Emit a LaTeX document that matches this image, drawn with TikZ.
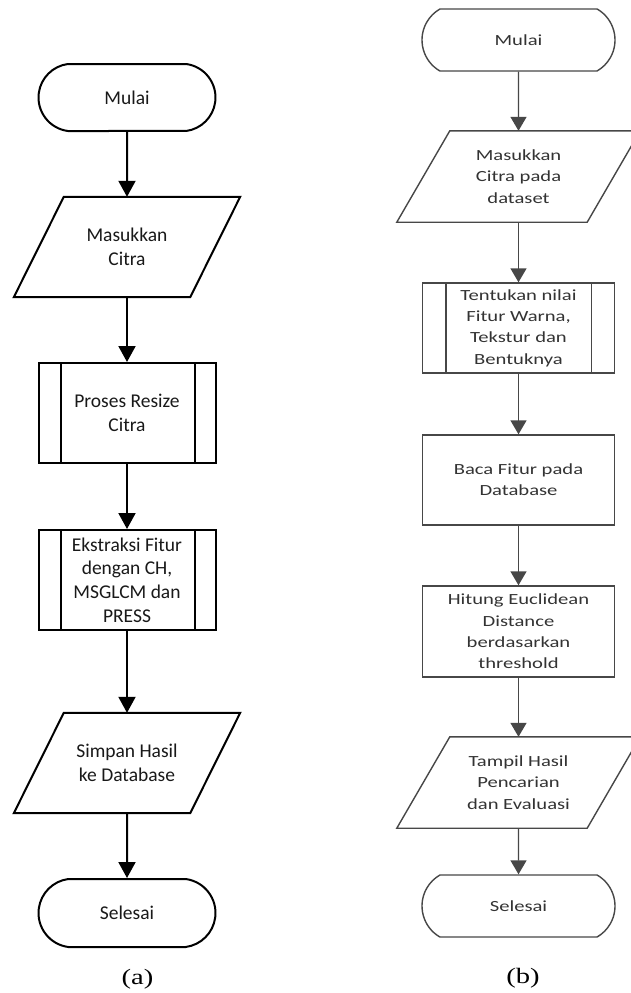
\documentclass[tikz,border=0pt]{standalone}
\usepackage{fontspec}
\setmainfont{Carlito}
\newfontfamily\lfont{Carlito}
\newfontfamily\rfont{Carlito}[FakeStretch=1.33]
\newfontfamily\capfont{Liberation Serif}[FakeStretch=1.3]
\usetikzlibrary{arrows.meta,shapes.misc}
\begin{document}
\begin{tikzpicture}[x=1pt,y=-1pt,
  lbase/.style={inner sep=0pt, align=center, font=\lfont\fontsize{19.5}{23.8}\selectfont, text=black!90},
  lline/.style={line width=2pt, draw=black},
  lterm/.style={lbase, lline, rounded rectangle, rounded rectangle arc length=165, minimum width=177pt, minimum height=67pt},
  lio/.style={lbase, minimum width=226pt, minimum height=100pt},
  lproc/.style={lbase, lline, minimum width=177pt, minimum height=100pt},
  larr/.style={line width=2pt, draw=black, -{Triangle[width=17pt,length=16pt]}},
  rbase/.style={inner sep=0pt, align=center, font=\rfont\fontsize{15.5}{21.3}\selectfont, text=black!80},
  rline/.style={line width=1.4pt, draw=black!72},
  rterm/.style={rbase, rline, rounded rectangle, rounded rectangle arc length=120, minimum width=193pt, minimum height=62pt},
  rio/.style={rbase, minimum width=243pt, minimum height=91pt},
  rproc/.style={rbase, rline, minimum width=192pt, minimum height=90pt},
  rarr/.style={line width=1.4pt, draw=black!72, -{Triangle[width=16pt,length=14pt]}},
  captxt/.style={font=\capfont\fontsize{22}{26}\selectfont, inner sep=0pt}
]
\useasboundingbox (0,0) rectangle (630,993);
\fill[white] (0,0) rectangle (630,993);

% ---------- (a) ----------
\node[lterm] (a1) at (127,97.5) {Mulai};
\node[lio]   (a2) at (127,247) {Masukkan\\Citra};
\node[lproc] (a3) at (127,413) {Proses Resize\\Citra};
\node[lproc] (a4) at (127,580) {Ekstraksi Fitur\\dengan CH,\\MSGLCM dan\\PRESS};
\node[lio]   (a5) at (127,763) {Simpan Hasil\\ke Database};
\node[lterm, minimum height=68pt] (a6) at (127,913) {Selesai};

\foreach \n in {a2,a5}
  \draw[lline] (\n.south west) -- ([xshift=50pt]\n.north west) -- (\n.north east) -- ([xshift=-50pt]\n.south east) -- cycle;
\foreach \n in {a3,a4} {
  \draw[lline] ([xshift=23pt]\n.north west) -- ([xshift=23pt]\n.south west);
  \draw[lline] ([xshift=-22pt]\n.north east) -- ([xshift=-22pt]\n.south east);
}
\draw[larr] (a1) -- (a2);
\draw[larr] (a2) -- (a3);
\draw[larr] (a3) -- (a4);
\draw[larr] (a4) -- (a5);
\draw[larr] (a5) -- (a6);
\node[captxt] (capa) at (137.5,979) {(a)};

% ---------- (b) ----------
\node[rterm] (b1) at (518.5,40) {Mulai};
\node[rio]   (b2) at (518.5,176.5) {Masukkan\\Citra pada\\dataset};
\node[rproc] (b3) at (518.5,328) {Tentukan nilai\\Fitur Warna,\\Tekstur dan\\Bentuknya};
\node[rproc] (b4) at (518.5,480) {Baca Fitur pada\\Database};
\node[rproc, minimum height=91pt] (b5) at (518.5,631.5) {Hitung Euclidean\\Distance\\berdasarkan\\threshold};
\node[rio]   (b6) at (518.5,782.5) {Tampil Hasil\\Pencarian\\dan Evaluasi};
\node[rterm] (b7) at (518.5,906) {Selesai};

\foreach \n in {b2,b6}
  \draw[rline] (\n.south west) -- ([xshift=53pt]\n.north west) -- (\n.north east) -- ([xshift=-53pt]\n.south east) -- cycle;
\draw[rline] ([xshift=24pt]b3.north west) -- ([xshift=24pt]b3.south west);
\draw[rline] ([xshift=-24pt]b3.north east) -- ([xshift=-24pt]b3.south east);
\draw[rarr] (b1) -- (b2);
\draw[rarr] (b2) -- (b3);
\draw[rarr] (b3) -- (b4);
\draw[rarr] (b4) -- (b5);
\draw[rarr] (b5) -- (b6);
\draw[rarr] (b6) -- (b7);
\node[captxt] (capb) at (523,978) {(b)};
\end{tikzpicture}
\end{document}
